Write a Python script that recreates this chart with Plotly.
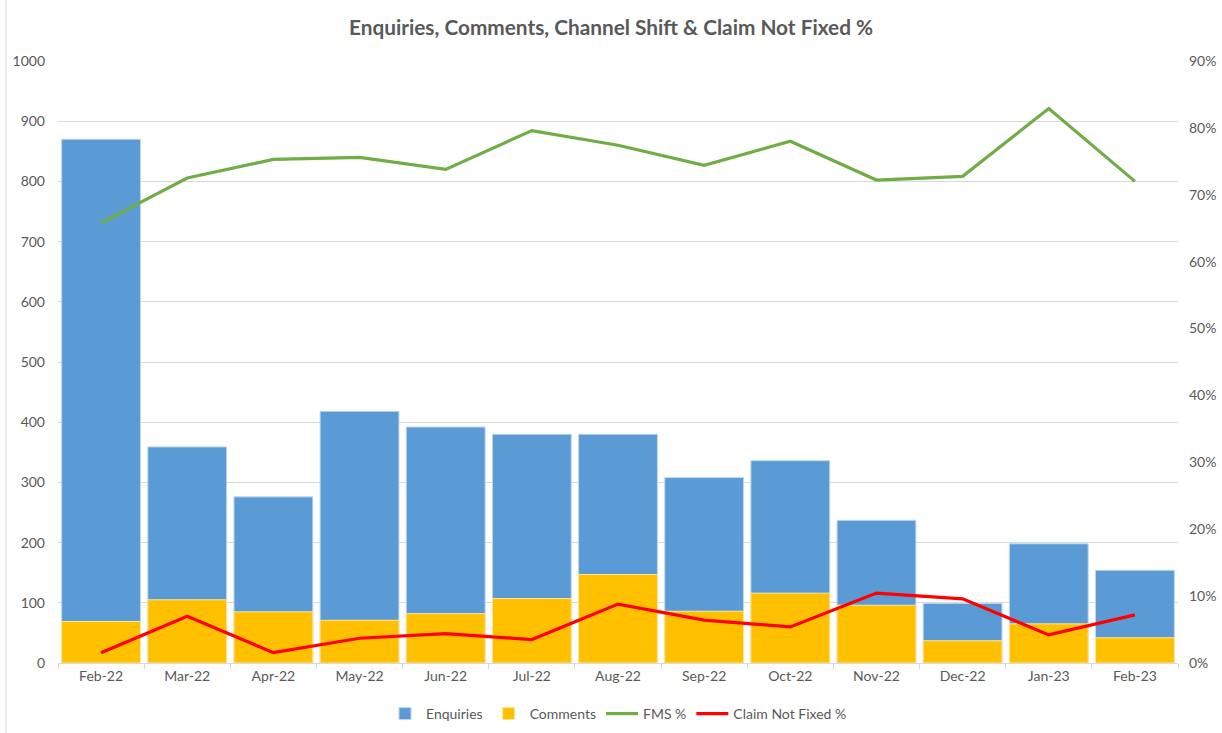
import plotly.graph_objects as go

months = ["Feb-22", "Mar-22", "Apr-22", "May-22", "Jun-22", "Jul-22", "Aug-22",
          "Sep-22", "Oct-22", "Nov-22", "Dec-22", "Jan-23", "Feb-23"]
enquiries = [870, 359, 276, 418, 392, 380, 380, 308, 336, 237, 99, 198, 154]
comments = [69, 105, 85, 71, 82, 107, 147, 86, 116, 96, 37, 65, 42]
fms_pct = [0.658, 0.725, 0.753, 0.756, 0.738, 0.796, 0.774, 0.744, 0.780, 0.722, 0.7275, 0.829, 0.720]
claim_not_fixed_pct = [0.0154, 0.070, 0.0154, 0.037, 0.044, 0.035, 0.088, 0.064, 0.054, 0.1046, 0.096, 0.042, 0.072]

FONT = "Lato"
GREY = "#595959"

fig = go.Figure()
fig.add_trace(go.Bar(x=months, y=enquiries, name="Enquiries",
                     marker=dict(color="#5B9BD5", line=dict(color="#BDD7EE", width=1))))
fig.add_trace(go.Bar(x=months, y=comments, name="Comments",
                     marker=dict(color="#FFC000", line=dict(color="#FFE699", width=1))))
fig.add_trace(go.Scatter(x=months, y=fms_pct, name="FMS %", mode="lines",
                         line=dict(color="#70AD47", width=3.2), yaxis="y2"))
fig.add_trace(go.Scatter(x=months, y=claim_not_fixed_pct, name="Claim Not Fixed %", mode="lines",
                         line=dict(color="#FF0000", width=3.2), yaxis="y2"))

fig.update_layout(
    width=1222, height=733,
    paper_bgcolor="white", plot_bgcolor="white",
    margin=dict(l=58, r=44, t=61, b=70, autoexpand=False),
    barmode="overlay", bargap=0.085,
    font=dict(family=FONT, size=14, color=GREY),
    title=dict(text="<b>Enquiries, Comments, Channel Shift & Claim Not Fixed %</b>",
               x=0.5, xanchor="center", y=1 - 28 / 733, yanchor="middle",
               font=dict(family=FONT, size=20.8, color=GREY)),
    xaxis=dict(showgrid=False, showline=True, linecolor="#D9D9D9", linewidth=1,
               ticks="outside", tickson="boundaries", ticklen=5, tickcolor="#D9D9D9",
               tickfont=dict(size=14, color=GREY)),
    yaxis=dict(range=[0, 1000], dtick=100, showgrid=True, gridcolor="#D9D9D9", gridwidth=1,
               zeroline=False, showline=False, ticks="", ticklabelstandoff=12,
               tickfont=dict(size=14, color=GREY)),
    yaxis2=dict(range=[0, 0.9], dtick=0.1, tickformat=".0%", overlaying="y", side="right",
                showgrid=False, zeroline=False, showline=False, ticks="", ticklabelstandoff=10,
                tickfont=dict(size=14, color=GREY)),
    legend=dict(orientation="h", x=0.5, xanchor="center", y=-(714 - 663) / 602, yanchor="middle",
                font=dict(size=14, color=GREY), traceorder="normal", itemwidth=32),
    shapes=[dict(type="line", xref="paper", yref="paper", x0=-52 / 1120, x1=-52 / 1120,
                 y0=-0.12, y1=1.11, line=dict(color="#D9D9D9", width=1))],
)

fig.write_html("out.html", config={"displayModeBar": False},
               post_script="document.body.style.margin='0';")
